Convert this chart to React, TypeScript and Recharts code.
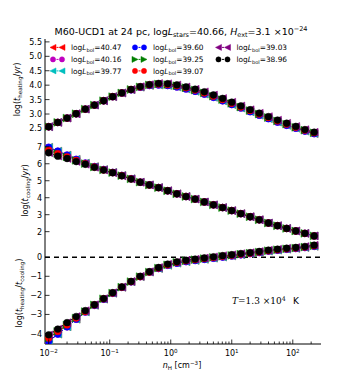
import React from 'react';
import { LineChart, Line, XAxis, YAxis, ReferenceLine } from 'recharts';

// density grid, cm^-3
const nH = [
  0.01, 0.0141, 0.02, 0.0282, 0.0398, 0.0562, 0.0794, 0.112, 0.158, 0.224,
  0.316, 0.447, 0.631, 0.891, 1.26, 1.78, 2.51, 3.55, 5.01, 7.08,
  10.0, 14.1, 20.0, 28.2, 39.8, 56.2, 79.4, 112, 158, 224,
];

// log(t_heating / yr)
const heatingLow = [
  2.56, 2.71, 2.86, 3.01, 3.17, 3.31, 3.46, 3.6, 3.73, 3.85,
  3.95, 4.02, 4.06, 4.05, 4.01, 3.94, 3.86, 3.77, 3.66, 3.54,
  3.41, 3.28, 3.15, 3.03, 2.91, 2.79, 2.68, 2.57, 2.46, 2.37,
];
const heatingMid = [
  2.56, 2.71, 2.86, 3.01, 3.17, 3.31, 3.46, 3.6, 3.73, 3.85,
  3.94, 4.01, 4.04, 4.02, 3.98, 3.91, 3.83, 3.73, 3.62, 3.5,
  3.37, 3.24, 3.12, 3.0, 2.88, 2.76, 2.65, 2.54, 2.44, 2.35,
];
const heatingHigh = [
  2.56, 2.71, 2.86, 3.01, 3.17, 3.31, 3.46, 3.6, 3.73, 3.84,
  3.93, 3.99, 4.01, 3.99, 3.94, 3.87, 3.79, 3.69, 3.58, 3.46,
  3.33, 3.21, 3.08, 2.96, 2.84, 2.72, 2.61, 2.51, 2.41, 2.32,
];

// log(t_cooling / yr)
const coolingLow = [
  6.65, 6.45, 6.31, 6.13, 5.97, 5.79, 5.63, 5.47, 5.29, 5.1,
  4.91, 4.75, 4.59, 4.41, 4.23, 4.07, 3.92, 3.75, 3.58, 3.42,
  3.24, 3.06, 2.88, 2.7, 2.51, 2.35, 2.19, 2.04, 1.9, 1.75,
];
const coolingMid = [
  6.8, 6.6, 6.41, 6.2, 6.01, 5.81, 5.64, 5.48, 5.3, 5.11,
  4.92, 4.75, 4.59, 4.41, 4.23, 4.07, 3.92, 3.75, 3.58, 3.42,
  3.24, 3.06, 2.88, 2.7, 2.51, 2.35, 2.19, 2.04, 1.9, 1.75,
];
const coolingHigh = [
  6.97, 6.74, 6.51, 6.26, 6.04, 5.83, 5.66, 5.49, 5.31, 5.12,
  4.92, 4.76, 4.6, 4.41, 4.23, 4.07, 3.92, 3.75, 3.58, 3.42,
  3.24, 3.06, 2.88, 2.7, 2.51, 2.35, 2.19, 2.04, 1.9, 1.75,
];

// log(t_heating / t_cooling)
const ratioLow = [
  -4.07, -3.77, -3.43, -3.11, -2.8, -2.49, -2.17, -1.86, -1.56, -1.27,
  -1.0, -0.76, -0.54, -0.36, -0.24, -0.16, -0.1, -0.04, 0.02, 0.08,
  0.13, 0.19, 0.24, 0.3, 0.37, 0.42, 0.47, 0.51, 0.56, 0.63,
];
const ratioMid = [
  -4.24, -3.89, -3.55, -3.19, -2.85, -2.5, -2.18, -1.88, -1.57, -1.28,
  -1.02, -0.78, -0.57, -0.4, -0.27, -0.19, -0.13, -0.07, -0.01, 0.05,
  0.1, 0.16, 0.21, 0.27, 0.34, 0.39, 0.44, 0.48, 0.53, 0.6,
];
const ratioHigh = [
  -4.41, -4.03, -3.65, -3.25, -2.87, -2.52, -2.2, -1.89, -1.58, -1.29,
  -1.02, -0.78, -0.59, -0.42, -0.31, -0.23, -0.17, -0.11, -0.05, 0.01,
  0.07, 0.13, 0.19, 0.25, 0.32, 0.37, 0.42, 0.46, 0.51, 0.57,
];

const xMajor = [0.01, 0.1, 1, 10, 100];
const xMinor = [
  0.02, 0.03, 0.04, 0.05, 0.06, 0.07, 0.08, 0.09,
  0.2, 0.3, 0.4, 0.5, 0.6, 0.7, 0.8, 0.9,
  2, 3, 4, 5, 6, 7, 8, 9,
  20, 30, 40, 50, 60, 70, 80, 90, 200,
];
const xExponents = ['−2', '−1', '0', '1', '2'];

const heatTicks = [2.5, 3.0, 3.5, 4.0, 4.5, 5.0, 5.5];
const coolTicks = [2, 3, 4, 5, 6, 7];
const ratioTicks = [-4, -3, -2, -1, 0];

const series = [
  { lbol: '40.47', color: '#ff0000', shape: 'left', group: 'High' },
  { lbol: '40.16', color: '#bf00bf', shape: 'circle', group: 'High' },
  { lbol: '39.77', color: '#00bfbf', shape: 'left', group: 'High' },
  { lbol: '39.60', color: '#0000ff', shape: 'circle', group: 'High' },
  { lbol: '39.25', color: '#007f00', shape: 'right', group: 'Mid' },
  { lbol: '39.07', color: '#ff0000', shape: 'circle', group: 'Mid' },
  { lbol: '39.03', color: '#800080', shape: 'left', group: 'Low' },
  { lbol: '38.96', color: '#000000', shape: 'circle', group: 'Low' },
];

const rows = nH.map((n, i) => ({
  nH: n,
  heatLow: heatingLow[i],
  heatMid: heatingMid[i],
  heatHigh: heatingHigh[i],
  coolLow: coolingLow[i],
  coolMid: coolingMid[i],
  coolHigh: coolingHigh[i],
  ratioLow: ratioLow[i],
  ratioMid: ratioMid[i],
  ratioHigh: ratioHigh[i],
}));

const W = 357;
const PLOT_LEFT = 45;
const PLOT_RIGHT = 321;
const X_DOMAIN = [0.0087, 290];
const FONT = 'DejaVu Sans';

function Marker({ cx, cy, shape, color, size }: any) {
  if (cx == null || cy == null) return null;
  if (shape === 'circle') {
    return <circle cx={cx} cy={cy} r={size} fill={color} stroke={color} strokeWidth={0.5} />;
  }
  const s = size * 1.15;
  const pts =
    shape === 'left'
      ? `${cx - s},${cy} ${cx + s},${cy - s} ${cx + s},${cy + s}`
      : `${cx + s},${cy} ${cx - s},${cy - s} ${cx - s},${cy + s}`;
  return <polygon points={pts} fill={color} stroke={color} strokeWidth={0.5} />;
}

const BottomTick = (props: any) => {
  const { x, y, payload, showLabel } = props;
  const idx = xMajor.indexOf(payload.value);
  const major = idx >= 0;
  return (
    <g>
      <line x1={x} x2={x} y1={y} y2={y - (major ? 4.5 : 2.5)} stroke="#000" strokeWidth={0.8} />
      {showLabel && major && (
        <text x={x} y={y + 12} textAnchor="middle" fontSize={8} fontFamily={FONT} fill="#000">
          10<tspan fontSize={5.6} dy={-3.5}>{xExponents[idx]}</tspan>
        </text>
      )}
    </g>
  );
};

const TopTick = (props: any) => {
  const { x, y, payload } = props;
  const major = xMajor.includes(payload.value);
  return <line x1={x} x2={x} y1={y} y2={y + (major ? 4.5 : 2.5)} stroke="#000" strokeWidth={0.8} />;
};

const LeftTick = (props: any) => {
  const { x, y, payload, fmt } = props;
  return (
    <g>
      <line x1={x} x2={x + 4.5} y1={y} y2={y} stroke="#000" strokeWidth={0.8} />
      <text x={x - 3} y={y + 3} textAnchor="end" fontSize={8} fontFamily={FONT} fill="#000">
        {fmt(payload.value)}
      </text>
    </g>
  );
};

const RightTick = (props: any) => {
  const { x, y } = props;
  return <line x1={x - 4.5} x2={x} y1={y} y2={y} stroke="#000" strokeWidth={0.8} />;
};

const fmtHalf = (v: number) => v.toFixed(1);
const fmtInt = (v: number) => (v < 0 ? '−' + Math.abs(v) : String(v));

function Panel({ top, plotH, xh, yDomain, yTicks, fmt, field, showLabels, zeroLine }: any) {
  return (
    <div style={{ position: 'absolute', left: 0, top: top - 5 }}>
      <LineChart
        width={W}
        height={plotH + 5 + xh}
        data={rows}
        margin={{ top: 5, right: W - PLOT_RIGHT, bottom: 0, left: 0 }}
      >
        <XAxis
          xAxisId="b"
          dataKey="nH"
          type="number"
          scale="log"
          domain={X_DOMAIN}
          allowDataOverflow
          ticks={[...xMajor, ...xMinor]}
          interval={0}
          height={xh}
          tickSize={0}
          tickMargin={0}
          tickLine={false}
          axisLine={{ stroke: '#000', strokeWidth: 1 }}
          tick={<BottomTick showLabel={showLabels} />}
        />
        <XAxis
          xAxisId="t"
          orientation="top"
          dataKey="nH"
          type="number"
          scale="log"
          domain={X_DOMAIN}
          allowDataOverflow
          ticks={[...xMajor, ...xMinor]}
          interval={0}
          height={0}
          tickSize={0}
          tickMargin={0}
          tickLine={false}
          axisLine={{ stroke: '#000', strokeWidth: 1 }}
          tick={<TopTick />}
        />
        <YAxis
          yAxisId="l"
          type="number"
          domain={yDomain}
          allowDataOverflow
          ticks={yTicks}
          interval={0}
          width={PLOT_LEFT}
          tickSize={0}
          tickMargin={0}
          tickLine={false}
          axisLine={{ stroke: '#000', strokeWidth: 1 }}
          tick={<LeftTick fmt={fmt} />}
        />
        <YAxis
          yAxisId="r"
          orientation="right"
          type="number"
          domain={yDomain}
          allowDataOverflow
          ticks={yTicks}
          interval={0}
          width={0}
          tickSize={0}
          tickMargin={0}
          tickLine={false}
          axisLine={{ stroke: '#000', strokeWidth: 1 }}
          tick={<RightTick />}
        />
        {zeroLine && (
          <ReferenceLine xAxisId="b" yAxisId="l" y={0} stroke="#000" strokeWidth={1.5} strokeDasharray="5 4" />
        )}
        {series.map((s) => (
          <Line
            key={s.lbol}
            xAxisId="b"
            yAxisId="l"
            type="linear"
            dataKey={field + s.group}
            stroke={s.color}
            strokeWidth={1}
            strokeDasharray="3 2"
            isAnimationActive={false}
            activeDot={false}
            dot={(p: any) => (
              <Marker key={p.index} cx={p.cx} cy={p.cy} shape={s.shape} color={s.color} size={3.4} />
            )}
          />
        ))}
      </LineChart>
    </div>
  );
}

const SUB = 5.6;

function Overlay() {
  const cols = [71, 153, 236.5];
  const rowsY = [50, 62, 73.5];
  const layout = [
    [0, 0], [0, 1], [0, 2],
    [1, 0], [1, 1], [1, 2],
    [2, 0], [2, 1],
  ];
  return (
    <svg
      width={W}
      height={383}
      style={{ position: 'absolute', left: 0, top: 0, pointerEvents: 'none' }}
      fontFamily={FONT}
    >
      <text x={181} y={34.5} textAnchor="middle" fontSize={9.5} fill="#000">
        M60-UCD1 at 24 pc, log<tspan fontStyle="italic">L</tspan>
        <tspan fontSize={6.5} dy={2}>stars</tspan>
        <tspan dy={-2}>=40.66, </tspan>
        <tspan fontStyle="italic">H</tspan>
        <tspan fontSize={6.5} dy={2}>ext</tspan>
        <tspan dy={-2}>=3.1 ×10</tspan>
        <tspan fontSize={6.5} dy={-4}>−24</tspan>
      </text>

      {series.map((s, i) => {
        const [c, r] = layout[i];
        const tx = cols[c];
        const cy = rowsY[r] - 2.6;
        return (
          <g key={s.lbol}>
            <line x1={tx - 18} x2={tx - 9} y1={cy} y2={cy} stroke={s.color} strokeWidth={1} strokeDasharray="2 1.5" />
            <Marker cx={tx - 18} cy={cy} shape={s.shape} color={s.color} size={2.6} />
            <Marker cx={tx - 9} cy={cy} shape={s.shape} color={s.color} size={2.6} />
            <text x={tx} y={rowsY[r]} fontSize={7.4} fill="#000">
              log<tspan fontStyle="italic">L</tspan>
              <tspan fontSize={5.1} dy={1.6}>bol</tspan>
              <tspan dy={-1.6}>={s.lbol}</tspan>
            </text>
          </g>
        );
      })}

      <text transform="translate(20,89.5) rotate(-90)" textAnchor="middle" fontSize={8} fill="#000">
        log(<tspan fontStyle="italic">t</tspan>
        <tspan fontSize={SUB} dy={1.5}>heating</tspan>
        <tspan dy={-1.5}>/</tspan>
        <tspan fontStyle="italic">yr</tspan>)
      </text>
      <text transform="translate(28,190.5) rotate(-90)" textAnchor="middle" fontSize={8} fill="#000">
        log(<tspan fontStyle="italic">t</tspan>
        <tspan fontSize={SUB} dy={1.5}>cooling</tspan>
        <tspan dy={-1.5}>/</tspan>
        <tspan fontStyle="italic">yr</tspan>)
      </text>
      <text transform="translate(22,293) rotate(-90)" textAnchor="middle" fontSize={8} fill="#000">
        log(<tspan fontStyle="italic">t</tspan>
        <tspan fontSize={SUB} dy={1.5}>heating</tspan>
        <tspan dy={-1.5}>/</tspan>
        <tspan fontStyle="italic">t</tspan>
        <tspan fontSize={SUB} dy={1.5}>cooling</tspan>
        <tspan dy={-1.5}>)</tspan>
      </text>

      <text x={182} y={368} textAnchor="middle" fontSize={8} fill="#000">
        <tspan fontStyle="italic">n</tspan>
        <tspan fontSize={SUB} dy={1.5}>H</tspan>
        <tspan dy={-1.5}> [cm</tspan>
        <tspan fontSize={SUB} dy={-3}>−3</tspan>
        <tspan dy={3}>]</tspan>
      </text>

      <text x={232} y={304} fontSize={9} fill="#000">
        <tspan fontFamily="DejaVu Serif" fontStyle="italic">T</tspan>
        <tspan fontFamily="DejaVu Serif">=1.3 ×10</tspan>
        <tspan fontFamily="DejaVu Serif" fontSize={6.3} dy={-3.5}>4</tspan>
        <tspan dy={3.5} x={293}>K</tspan>
      </text>
    </svg>
  );
}

export default function App() {
  return (
    <div style={{ position: 'absolute', left: 0, top: 0, width: W, height: 383, background: '#fff' }}>
      <Panel top={39} plotH={101} xh={0} yDomain={[2.1, 5.6]} yTicks={heatTicks} fmt={fmtHalf} field="heat" />
      <Panel top={140} plotH={101} xh={0} yDomain={[1.45, 7.4]} yTicks={coolTicks} fmt={fmtInt} field="cool" />
      <Panel
        top={241}
        plotH={103}
        xh={39}
        yDomain={[-4.55, 0.85]}
        yTicks={ratioTicks}
        fmt={fmtInt}
        field="ratio"
        showLabels
        zeroLine
      />
      <Overlay />
    </div>
  );
}
